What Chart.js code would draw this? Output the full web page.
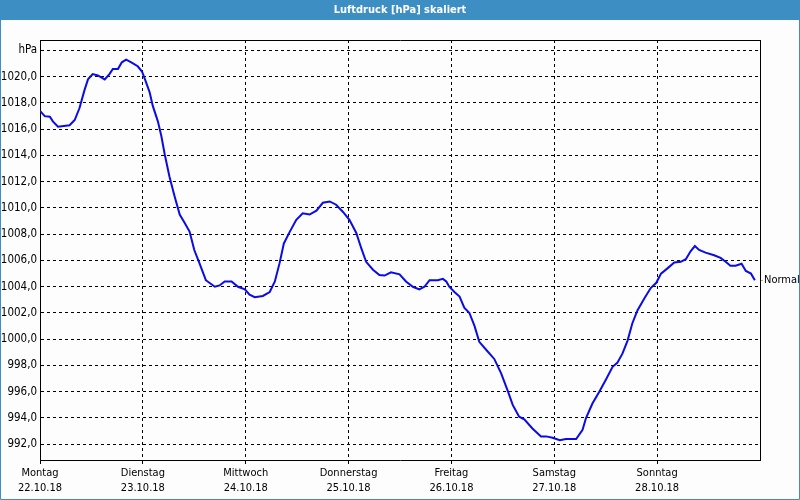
<!DOCTYPE html>
<html>
<head>
<meta charset="utf-8">
<title>Luftdruck [hPa] skaliert</title>
<script src="https://cdn.jsdelivr.net/npm/chart.js@4/dist/chart.umd.min.js"></script>
<style>
   html, body { margin: 0; padding: 0; background: #fcfdfc; }
   canvas { display: block; }
</style>
</head>
<body>
<canvas id="chart1" width="800" height="500"></canvas>
<script>
/*=================================>> DATA  <<=================================*/

const chartTitle = "Luftdruck [hPa] skaliert";
const dayNames = ["Montag", "Dienstag", "Mittwoch", "Donnerstag", "Freitag", "Samstag", "Sonntag"];
const dayDates = ["22.10.18", "23.10.18", "24.10.18", "25.10.18", "26.10.18", "27.10.18", "28.10.18"];
const dayTicks = [0, 24, 48, 72, 96, 120, 144];
const yTicks = [992, 994, 996, 998, 1000, 1002, 1004, 1006, 1008, 1010, 1012, 1014, 1016, 1018, 1020, 1022];
const unitLabel = "hPa";
const normalLabel = "Normal";
const normalValue = 1004.5;

// hours since Monday 00:00
const hours = [
   0.0, 1.1, 2.3, 3.0, 4.2, 6.9, 8.1, 9.2, 10.4, 11.2, 12.3, 13.5, 15.1, 16.2, 17.0, 18.2,
   19.1, 20.1, 21.3, 22.8, 23.8, 24.5, 25.6, 26.3, 27.5, 28.3, 29.1, 30.2, 31.4, 32.6, 33.7,
   34.9, 36.0, 37.2, 38.7, 40.8, 41.9, 43.1, 44.7, 46.2, 47.8, 48.9, 50.1, 52.0, 53.6, 54.8,
   55.9, 56.9, 58.3, 59.8, 61.3, 62.9, 64.5, 66.0, 67.6, 69.1, 70.7, 72.2, 73.8, 75.0, 76.1,
   77.7, 79.2, 80.4, 81.9, 83.9, 85.4, 87.0, 88.5, 89.7, 90.9, 92.8, 94.0, 94.8, 95.5, 96.7,
   97.9, 99.0, 100.2, 101.4, 102.5, 104.1, 106.0, 107.6, 109.1, 110.3, 111.8, 113.0, 114.9,
   116.9, 118.1, 119.6, 121.3, 122.7, 125.1, 126.6, 127.4, 128.9, 130.5, 132.0, 133.6, 134.7,
   135.9, 137.1, 138.2, 139.4, 141.0, 142.5, 143.8, 144.9, 146.4, 148.0, 149.5, 150.7, 151.8,
   152.8, 153.8, 155.3, 157.3, 158.8, 160.0, 161.1, 162.3, 163.7, 164.7, 165.9, 166.8
];
const pressure = [
   1017.4, 1017.0, 1016.95, 1016.6, 1016.2, 1016.3, 1016.7, 1017.6, 1019.0, 1019.8, 1020.2, 1020.1, 1019.8, 1020.2, 1020.6, 1020.6,
   1021.1, 1021.3, 1021.1, 1020.8, 1020.4, 1019.8, 1018.8, 1017.8, 1016.6, 1015.5, 1014.1, 1012.4, 1010.9, 1009.5, 1008.9,
   1008.2, 1006.8, 1005.8, 1004.5, 1004.0, 1004.1, 1004.4, 1004.4, 1004.0, 1003.8, 1003.4, 1003.2, 1003.3, 1003.6, 1004.4,
   1005.8, 1007.3, 1008.2, 1009.1, 1009.6, 1009.5, 1009.8, 1010.4, 1010.5, 1010.25, 1009.7, 1009.1, 1008.1, 1006.9, 1005.9,
   1005.3, 1004.9, 1004.85, 1005.1, 1004.95, 1004.4, 1004.0, 1003.8, 1004.0, 1004.5, 1004.5, 1004.6, 1004.4, 1004.0, 1003.6,
   1003.25, 1002.4, 1002.0, 1001.0, 999.8, 999.2, 998.5, 997.4, 996.1, 995.0, 994.1, 993.9, 993.2,
   992.6, 992.6, 992.5, 992.3, 992.4, 992.4, 993.1, 994.0, 995.1, 996.0, 996.9, 997.9, 998.2,
   998.9, 999.9, 1001.2, 1002.2, 1003.1, 1003.9, 1004.3, 1005.0, 1005.4, 1005.85, 1005.9, 1006.1, 1006.7,
   1007.1, 1006.8, 1006.6, 1006.4, 1006.2, 1005.9, 1005.6, 1005.6, 1005.75, 1005.2, 1005.0, 1004.5
];

/*=================================>> CHART  <<=================================*/

const FONT = "'DejaVu Sans Condensed', 'Liberation Sans', sans-serif";
const Y_MIN = 990.8;
const Y_MAX = 1022.8;

// title bar, page background and frame lines
const framePlugin = {
   id: "frame",
   beforeDraw(chart) {
      const ctx = chart.ctx;
      ctx.save();
      ctx.fillStyle = "#fcfdfc";
      ctx.fillRect(0, 0, chart.width, chart.height);
      ctx.fillStyle = "#3d8fc3";
      ctx.fillRect(0, 0, chart.width, 20);
      ctx.restore();
   },
   afterDraw(chart) {
      const ctx = chart.ctx;
      const area = chart.chartArea;
      ctx.save();
      ctx.strokeStyle = "#000";
      ctx.lineWidth = 1;
      ctx.beginPath();
      ctx.moveTo(Math.round(area.left) + 0.5, Math.round(area.top) + 0.5);
      ctx.lineTo(Math.round(area.right) + 0.5, Math.round(area.top) + 0.5);
      ctx.stroke();
      ctx.strokeStyle = "#3d8fc3";
      ctx.beginPath();
      ctx.moveTo(0.5, 20);
      ctx.lineTo(0.5, chart.height - 0.5);
      ctx.lineTo(chart.width - 0.5, chart.height - 0.5);
      ctx.lineTo(chart.width - 0.5, 20);
      ctx.stroke();
      ctx.restore();
   }
};

function drawChart(canva) {
   const points = hours.map((h, i) => ({ x: h, y: pressure[i] }));
   const config = {
      type: "line",
      data: {
         datasets: [{
            label: "Luftdruck",
            data: points,
            borderColor: "#0b0be6",
            borderWidth: 2,
            pointRadius: 0,
            tension: 0,
            fill: false,
         }]
      },
      options: {
         responsive: false,
         animation: false,
         layout: { padding: 0 },
         plugins: {
            legend: { display: false },
            tooltip: { enabled: false },
            title: {
               display: true,
               text: chartTitle,
               color: "#ffffff",
               font: { family: FONT, size: 11, weight: "bold", lineHeight: "16px" },
               padding: { top: 2, bottom: 22 },
            },
         },
         scales: {
            x: {
               type: "linear",
               min: 0,
               max: 168,
               afterFit: (scale) => { scale.height = 40; },
               afterBuildTicks: (scale) => {
                  scale.ticks = dayTicks.map(v => ({ value: v }));
               },
               ticks: {
                  maxRotation: 0,
                  autoSkip: false,
                  padding: 2,
                  color: "#000",
                  font: { family: FONT, size: 11, lineHeight: 1.35 },
                  callback: (value) => {
                     const i = dayTicks.indexOf(value);
                     return [dayNames[i], dayDates[i]];
                  },
               },
               grid: {
                  color: "#000",
                  tickLength: 4,
                  tickColor: "#000",
                  tickBorderDash: [],
               },
               border: { display: true, color: "#000", width: 1, dash: [3, 3] },
            },
            y: {
               position: "left",
               min: Y_MIN,
               max: Y_MAX,
               afterFit: (scale) => { scale.width = 40; },
               afterBuildTicks: (scale) => {
                  scale.ticks = yTicks.map(v => ({ value: v }));
               },
               ticks: {
                  padding: 3,
                  color: "#000",
                  font: { family: FONT, size: 11.5 },
                  callback: (value) => value === 1022 ? unitLabel : value.toFixed(1).replace(".", ","),
               },
               grid: { color: "#000", drawTicks: false },
               border: { display: true, color: "#000", width: 1, dash: [3, 3] },
            },
            yNormal: {
               position: "right",
               min: Y_MIN,
               max: Y_MAX,
               afterFit: (scale) => { scale.width = 40; },
               afterBuildTicks: (scale) => { scale.ticks = [{ value: normalValue }]; },
               ticks: {
                  padding: 1,
                  color: "#000",
                  font: { family: FONT, size: 11 },
                  callback: () => normalLabel,
               },
               grid: { drawOnChartArea: false, tickLength: 3, tickColor: "#d9a650" },
               border: { display: true, color: "#000", width: 1 },
            },
         }
      },
      plugins: [framePlugin],
   };
   return new Chart(canva, config);
}

drawChart(document.querySelector("#chart1"));
</script>
</body>
</html>
